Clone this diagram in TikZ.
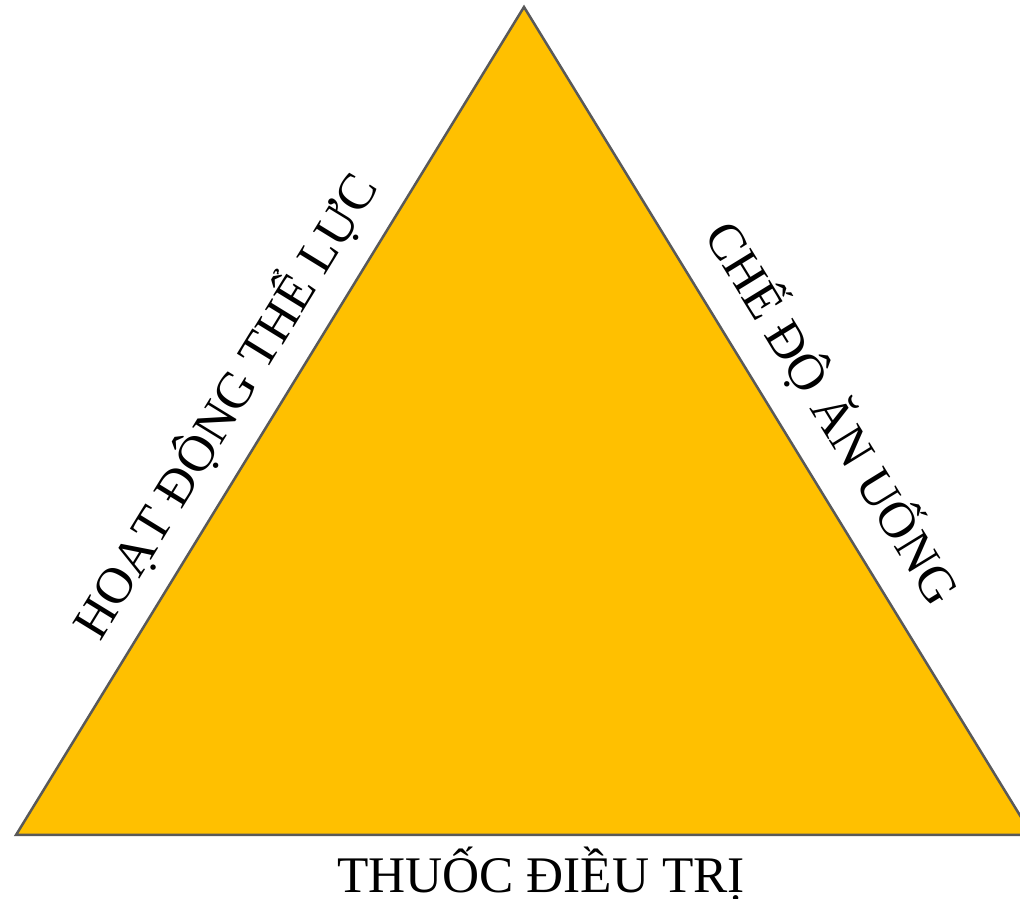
\documentclass[tikz,border=0pt]{standalone}
\usepackage{fontspec}
\setmainfont{Liberation Serif}
\definecolor{gold}{HTML}{FFC000}
\definecolor{edgegray}{HTML}{595959}
\begin{document}
\begin{tikzpicture}[x=1bp,y=1bp,
  lbl/.style={font=\fontsize{51.5}{60}\selectfont, inner sep=0pt, text=black},
  tri/.style={fill=gold, draw=edgegray, line width=2.5bp, line join=miter}]
\useasboundingbox (0,0) rectangle (1020,899);
\clip (0,0) rectangle (1020,899);
\coordinate (A) at (524,892);
\coordinate (B) at (16,64);
\coordinate (C) at (1032,64);
\filldraw[tri] (A) -- (B) -- (C) -- cycle;
\node[lbl, anchor=base, rotate=58.47] (left) at (240.2,484.3) {HOẠT ĐỘNG THỂ LỰC};
\node[lbl, anchor=base, rotate=-58.47] (right) at (817.6,476.8) {CHẾ ĐỘ ĂN UỐNG};
\node[lbl, anchor=base] (bottom) at (541,6) {THUỐC ĐIỀU TRỊ};
\end{tikzpicture}
\end{document}
